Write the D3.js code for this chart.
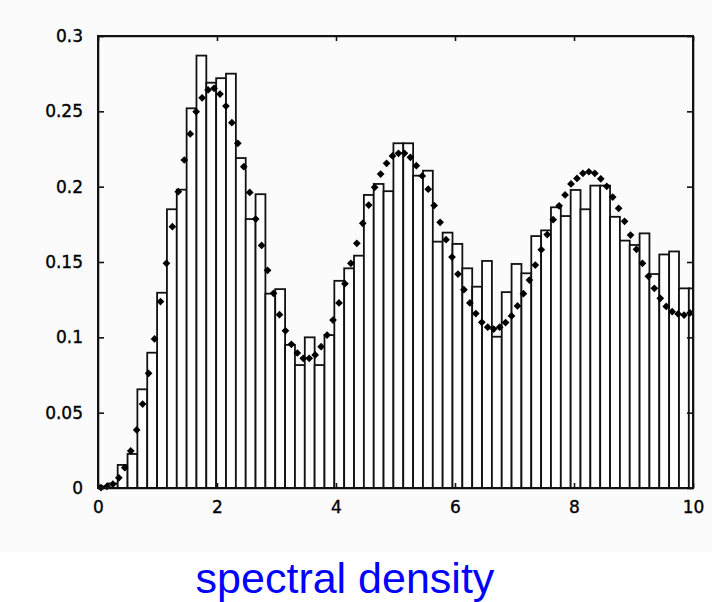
<!DOCTYPE html>
<html>
<head>
<meta charset="utf-8">
<script src="https://cdnjs.cloudflare.com/ajax/libs/d3/7.8.5/d3.min.js"></script>
<style>
body { margin: 0; background: #fff; }
.axis text { font-family: "DejaVu Sans", sans-serif; font-size: 17px; fill: #000; stroke: #000; stroke-width: 0.35px; }
.axis path, .axis line { stroke: #111; stroke-width: 1.6; }
</style>
</head>
<body>
<div id="chart"></div>
<script>
const margin = { top: 36, right: 19, bottom: 114, left: 98 };
const width = 712 - margin.left - margin.right;
const height = 602 - margin.top - margin.bottom;

// histogram: bin width and heights (61 bins, last one cut at 10)
const binWidth = 0.1655;
const barValues = [
  0.001, 0.003, 0.0153, 0.0226, 0.0655, 0.0898, 0.1296, 0.185, 0.198, 0.252,
  0.287, 0.269, 0.272, 0.275, 0.219, 0.1785, 0.195, 0.129, 0.132, 0.095,
  0.0816, 0.100, 0.0816, 0.1015, 0.1375, 0.1458, 0.1542, 0.1945, 0.2018, 0.197,
  0.2288, 0.2288, 0.2073, 0.2106, 0.1635, 0.1695, 0.162, 0.1458, 0.1336, 0.1507,
  0.1004, 0.130, 0.1487, 0.1425, 0.1672, 0.171, 0.1863, 0.1805, 0.1978, 0.185,
  0.2007, 0.2007, 0.180, 0.1642, 0.1613, 0.169, 0.142, 0.155, 0.157, 0.1325,
  0.1325
];

// theoretical density, one dot every 0.1 starting at 0.05
const dotValues = [
  0.0003, 0.001, 0.0025, 0.0068, 0.0135, 0.0246, 0.0385, 0.0557, 0.0761, 0.0989,
  0.1237, 0.1491, 0.1734, 0.1967, 0.2177, 0.235, 0.2498, 0.259, 0.2642, 0.2653,
  0.2615, 0.2535, 0.2425, 0.2288, 0.2133, 0.1962, 0.1785, 0.161, 0.1445, 0.1292,
  0.115, 0.1043, 0.0954, 0.0896, 0.0861, 0.0861, 0.0883, 0.0938, 0.1015, 0.1115,
  0.1228, 0.1356, 0.1491, 0.1624, 0.1757, 0.1878, 0.1996, 0.2084, 0.2155, 0.2204,
  0.2221, 0.2221, 0.2195, 0.2139, 0.2071, 0.1983, 0.1875, 0.1763, 0.1648, 0.1533,
  0.142, 0.1316, 0.1228, 0.1158, 0.110, 0.1067, 0.1055, 0.1067, 0.1098, 0.1142,
  0.1208, 0.129, 0.138, 0.148, 0.1582, 0.1682, 0.1781, 0.1873, 0.1945, 0.2018,
  0.2055, 0.2089, 0.2099, 0.2089, 0.2052, 0.2002, 0.1931, 0.1856, 0.177, 0.1679,
  0.1584, 0.1491, 0.1405, 0.1325, 0.1259, 0.1205, 0.117, 0.1155, 0.1148, 0.1162
];
const dotStart = 0.05;
const dotStep = 0.1;

const xTicks = [0, 2, 4, 6, 8, 10];
const yTicks = [0, 0.05, 0.1, 0.15, 0.2, 0.25, 0.3];
const yTickLabels = ["0", "0.05", "0.1", "0.15", "0.2", "0.25", "0.3"];
const caption = "spectral density";

var x = d3.scaleLinear().domain([0, 10]).range([0, width]);
var y = d3.scaleLinear().domain([0, 0.3]).range([height, 0]);

var svg = d3.select("#chart")
    .append("svg")
    .attr("width", 712)
    .attr("height", 602);

// faint scanned-paper tone behind the figure
svg.append("rect")
    .attr("x", 0).attr("y", 0)
    .attr("width", 712).attr("height", 552)
    .attr("fill", "#fbfbfb");

var g = svg.append("g")
    .attr("transform", "translate(" + margin.left + "," + margin.top + ")");

var bars = barValues.map(function(v, i) {
    return { x0: i * binWidth, x1: Math.min((i + 1) * binWidth, 10), v: v };
});

g.selectAll(".bar")
    .data(bars)
    .enter().append("rect")
        .attr("class", "bar")
        .attr("x", function(d) { return x(d.x0); })
        .attr("y", function(d) { return y(d.v); })
        .attr("width", function(d) { return x(d.x1) - x(d.x0); })
        .attr("height", function(d) { return y(0) - y(d.v); })
        .attr("fill", "#fff")
        .attr("stroke", "#111")
        .attr("stroke-width", 1.8);

var diamond = d3.symbol().type(d3.symbolSquare).size(30);

g.selectAll(".dot")
    .data(dotValues)
    .enter().append("path")
        .attr("class", "dot")
        .attr("d", diamond)
        .attr("transform", function(d, i) {
            return "translate(" + x(dotStart + i * dotStep) + "," + y(d) + ") rotate(45)";
        })
        .attr("fill", "#000");

// frame with inward ticks on all four sides
g.append("g")
    .attr("class", "axis")
    .attr("transform", "translate(0," + height + ")")
    .call(d3.axisBottom(x).tickValues(xTicks).tickFormat(d3.format("d"))
        .tickSizeInner(-5).tickSizeOuter(0).tickPadding(13));

g.append("g")
    .attr("class", "axis")
    .call(d3.axisLeft(y).tickValues(yTicks)
        .tickFormat(function(d, i) { return yTickLabels[i]; })
        .tickSizeInner(-6).tickSizeOuter(0).tickPadding(15));

g.append("g")
    .attr("class", "axis")
    .call(d3.axisTop(x).tickValues(xTicks).tickFormat("")
        .tickSizeInner(-5).tickSizeOuter(0));

g.append("g")
    .attr("class", "axis")
    .attr("transform", "translate(" + width + ",0)")
    .call(d3.axisRight(y).tickValues(yTicks).tickFormat("")
        .tickSizeInner(-6).tickSizeOuter(0));

g.append("rect")
    .attr("width", width)
    .attr("height", height)
    .attr("fill", "none")
    .attr("stroke", "#111")
    .attr("stroke-width", 2);

svg.append("text")
    .attr("x", 345)
    .attr("y", 593)
    .attr("text-anchor", "middle")
    .style("font-family", "'Liberation Sans', Arial, sans-serif")
    .style("font-size", "43px")
    .attr("fill", "#0000ff")
    .text(caption);
</script>
</body>
</html>
